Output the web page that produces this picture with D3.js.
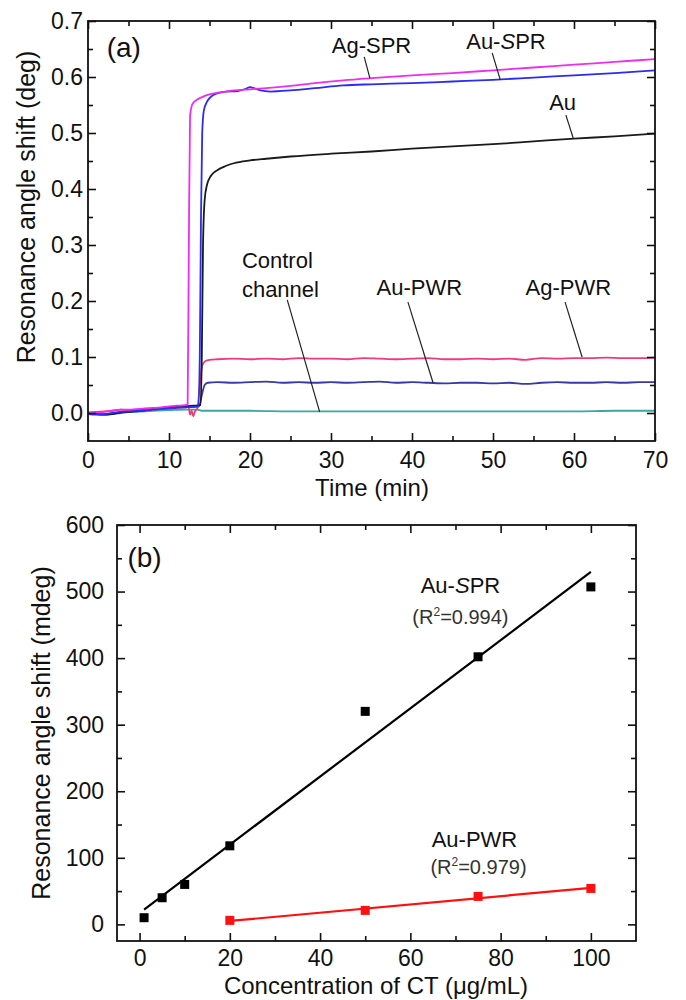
<!DOCTYPE html>
<html>
<head>
<meta charset="utf-8">
<script src="https://cdn.jsdelivr.net/npm/d3@7"></script>
<style>
body { margin: 0; background: #fff; }
svg { display: block; font-family: "Liberation Sans", Arial, sans-serif; }
</style>
</head>
<body>
<div id="container"></div>
<script>
const width = 686;
const height = 1000;

// ---- panel (a): time (min) vs resonance angle shift (deg) ----
const agSpr = [[0,0.000],[1,0.001],[2,0.002],[3,0.004],[4,0.006],[5,0.006],[6,0.007],[7,0.008],[8,0.009],[9,0.010],[10,0.012],[11,0.013],[12,0.014],[12.3,0.015],[12.45,0.30],[12.6,0.53],[12.9,0.552],[13.5,0.560],[14.2,0.565],[15,0.569],[16,0.572],[17,0.574],[18,0.576],[20,0.578],[22,0.580],[25,0.584],[28,0.589],[31.5,0.594],[35,0.598],[40,0.603],[45,0.607],[50,0.612],[55,0.617],[60,0.622],[65,0.627],[70,0.632]];
const auSpr = [[0,-0.002],[1,-0.003],[2,-0.002],[3,0.000],[4,0.002],[5,0.003],[6,0.004],[7,0.005],[8,0.007],[9,0.008],[10,0.009],[11,0.010],[12,0.010],[13,0.011],[13.6,0.012],[13.8,0.10],[13.95,0.35],[14.1,0.50],[14.3,0.54],[14.7,0.556],[15.2,0.565],[16,0.571],[17,0.574],[18.5,0.575],[19.5,0.579],[20,0.582],[20.5,0.580],[21.3,0.576],[22.5,0.574],[25,0.576],[28,0.580],[31.5,0.585],[35,0.587],[40,0.589],[45,0.592],[50,0.595],[55,0.599],[60,0.603],[65,0.607],[70,0.612]];
const au = [[0,0.000],[1,-0.002],[2,-0.003],[3,-0.002],[4,0.001],[5,0.002],[6,0.004],[7,0.006],[8,0.007],[9,0.009],[10,0.010],[11,0.011],[12,0.012],[13,0.013],[13.9,0.014],[14.05,0.10],[14.2,0.30],[14.4,0.38],[14.7,0.408],[15.2,0.424],[16,0.434],[17,0.441],[18,0.446],[20,0.451],[22,0.454],[25,0.458],[30,0.463],[35,0.467],[40,0.472],[45,0.476],[50,0.480],[55,0.485],[60,0.490],[65,0.494],[70,0.499]];
const agPwr = [[0,0.001],[1,0.002],[2,0.003],[3,0.004],[4,0.006],[5,0.005],[6,0.006],[7,0.006],[8,0.007],[9,0.008],[10,0.009],[11,0.011],[12,0.013],[12.4,0.012],[12.6,-0.003],[12.8,0.004],[13.0,-0.006],[13.2,0.003],[13.5,0.008],[13.8,0.050],[14.1,0.085],[14.5,0.093],[15,0.095],[16,0.096],[18,0.097],[20,0.096],[22,0.097],[24,0.096],[26,0.098],[28,0.097],[30,0.097],[32,0.096],[34,0.098],[36,0.097],[38,0.096],[40,0.097],[42,0.098],[44,0.096],[46,0.096],[48,0.097],[50,0.096],[52,0.097],[54,0.095],[56,0.098],[58,0.097],[60,0.098],[62,0.098],[64,0.099],[66,0.098],[68,0.098],[70,0.099]];
const auPwr = [[0,-0.002],[1,-0.002],[2,-0.003],[3,-0.001],[4,0.000],[5,0.002],[6,0.003],[7,0.004],[8,0.006],[9,0.007],[10,0.008],[11,0.009],[12,0.010],[13,0.011],[13.7,0.012],[14.1,0.035],[14.4,0.050],[14.8,0.054],[16,0.055],[18,0.054],[20,0.055],[22,0.056],[24,0.054],[26,0.055],[28,0.054],[30,0.055],[32,0.054],[34,0.055],[36,0.056],[38,0.054],[40,0.055],[42,0.054],[44,0.053],[46,0.054],[48,0.054],[50,0.053],[52,0.054],[54,0.052],[56,0.054],[58,0.055],[60,0.054],[62,0.054],[64,0.055],[66,0.054],[68,0.055],[70,0.055]];
const control = [[0,-0.001],[2,-0.002],[4,0.001],[6,0.002],[8,0.004],[10,0.005],[12,0.006],[13.5,0.006],[14,0.004],[16,0.004],[20,0.004],[25,0.003],[30,0.003],[35,0.003],[40,0.003],[45,0.003],[50,0.003],[55,0.003],[60,0.003],[65,0.004],[70,0.004]];

const timeTicks = [0, 10, 20, 30, 40, 50, 60, 70];
const timeMinor = [5, 15, 25, 35, 45, 55, 65];
const degTicks = [0, 0.1, 0.2, 0.3, 0.4, 0.5, 0.6, 0.7];
const degMinor = [0.05, 0.15, 0.25, 0.35, 0.45, 0.55, 0.65];

// ---- panel (b): concentration of CT vs shift (mdeg) ----
const concSpr = [1, 5, 10, 20, 50, 75, 100];
const shiftSpr = [10, 40, 60, 118, 320, 402, 507];
const concPwr = [20, 50, 75, 100];
const shiftPwr = [6, 21, 42, 54];

const concTicks = [0, 20, 40, 60, 80, 100];
const concMinor = [10, 30, 50, 70, 90];
const mdegTicks = [0, 100, 200, 300, 400, 500, 600];
const mdegMinor = [50, 150, 250, 350, 450, 550];

const svg = d3.select('#container')
    .append('svg')
    .attr('width', width)
    .attr('height', height);

function frameAxes(g, x, y, c) {
    const w = x.range()[1], h = y.range()[0];
    const sides = [
        [d3.axisBottom, x, `translate(0,${h})`, true],
        [d3.axisTop, x, 'translate(0,0)', false],
        [d3.axisLeft, y, 'translate(0,0)', true],
        [d3.axisRight, y, `translate(${w},0)`, false]
    ];
    sides.forEach(([ax, sc, tr, labels]) => {
        const isX = sc === x;
        const major = ax(sc).tickValues(isX ? c.xMajor : c.yMajor).tickSize(-8)
            .tickPadding(isX ? c.xPad : c.yPad)
            .tickFormat(labels ? (isX ? c.xFmt : c.yFmt) : '');
        const minor = ax(sc).tickValues(isX ? c.xMinor : c.yMinor).tickSize(-5).tickFormat('');
        g.append('g').attr('transform', tr).call(major);
        g.append('g').attr('transform', tr).call(minor);
    });
    g.selectAll('.domain').remove();
    g.selectAll('.tick line').attr('stroke', '#111').attr('stroke-width', 1.6);
    g.selectAll('.tick text').attr('font-size', 23).attr('fill', '#111')
        .attr('font-family', '"Liberation Sans", Arial, sans-serif');
    g.append('rect').attr('width', w).attr('height', h)
        .attr('fill', 'none').attr('stroke', '#111').attr('stroke-width', 1.8);
}

function richText(g, x, y, parts, size, anchor, fill) {
    const t = g.append('text').attr('x', x).attr('y', y)
        .attr('font-size', size).attr('text-anchor', anchor).attr('fill', fill);
    let shift = 0;
    parts.forEach(p => {
        const s = t.append('tspan').text(p.t);
        if (p.i) s.attr('font-style', 'italic');
        if (p.sup) {
            s.attr('font-size', size * 0.6).attr('dy', -size * 0.4);
            shift = size * 0.4;
        } else if (shift) {
            s.attr('dy', shift);
            shift = 0;
        }
    });
    return t;
}

// ---------- panel (a) ----------
const wA = 567, hA = 420;
const gA = svg.append('g').attr('transform', 'translate(88,21)');
const xA = d3.scaleLinear().domain([0, 70]).range([0, wA]);
const yA = d3.scaleLinear().domain([-0.05, 0.7]).range([hA, 0]);

gA.append('clipPath').attr('id', 'clipA').append('rect').attr('width', wA).attr('height', hA);

const lineA = d3.line().x(d => xA(d[0])).y(d => yA(d[1])).curve(d3.curveMonotoneX);
const seriesA = [
    [control, '#3aa89e'],
    [auPwr, '#3838a8'],
    [agPwr, '#f23a78'],
    [au, '#1a1a1a'],
    [auSpr, '#2b2bf5'],
    [agSpr, '#f02cf0']
];
gA.append('g').attr('clip-path', 'url(#clipA)')
    .selectAll('path').data(seriesA).enter().append('path')
    .attr('d', d => lineA(d[0]))
    .attr('fill', 'none').attr('stroke', d => d[1]).attr('stroke-width', 1.8);

frameAxes(gA, xA, yA, {
    xMajor: timeTicks, xMinor: timeMinor, yMajor: degTicks, yMinor: degMinor,
    xPad: 11, yPad: 5, xFmt: d3.format('d'), yFmt: d3.format('.1f')
});

const labelsA = [
    { parts: [{ t: 'Ag-SPR' }], t: 35.0, v: 0.643 },
    { parts: [{ t: 'Au-' }, { t: 'S', i: true }, { t: 'PR' }], t: 51.6, v: 0.650 },
    { parts: [{ t: 'Au' }], t: 58.6, v: 0.541 },
    { parts: [{ t: 'Au-PWR' }], t: 40.9, v: 0.211 },
    { parts: [{ t: 'Ag-PWR' }], t: 59.3, v: 0.211 }
];
labelsA.forEach(l => richText(gA, xA(l.t), yA(l.v), l.parts, 22, 'middle', '#111'));
richText(gA, xA(19.0), yA(0.259), [{ t: 'Control' }], 22, 'start', '#111');
richText(gA, xA(19.0), yA(0.207), [{ t: 'channel' }], 22, 'start', '#111');
richText(gA, xA(2.3), yA(0.636), [{ t: '(a)' }], 28, 'start', '#111');

const leadersA = [
    [34.1, 0.636, 34.8, 0.598],
    [49.9, 0.643, 50.9, 0.595],
    [59.0, 0.532, 59.9, 0.491],
    [24.6, 0.202, 28.6, 0.002],
    [39.5, 0.198, 42.6, 0.054],
    [58.9, 0.198, 61.0, 0.100]
];
gA.selectAll('line.leader').data(leadersA).enter().append('line')
    .attr('class', 'leader')
    .attr('x1', d => xA(d[0])).attr('y1', d => yA(d[1]))
    .attr('x2', d => xA(d[2])).attr('y2', d => yA(d[3]))
    .attr('stroke', '#222').attr('stroke-width', 1.2);

svg.append('text').attr('x', 372).attr('y', 496).attr('text-anchor', 'middle')
    .attr('font-size', 24).attr('fill', '#111').text('Time (min)');
svg.append('text').attr('transform', 'translate(35,207) rotate(-90)').attr('text-anchor', 'middle')
    .attr('font-size', 25).attr('fill', '#111').text('Resonance angle shift (deg)');

// ---------- panel (b) ----------
const wB = 519, hB = 416;
const gB = svg.append('g').attr('transform', 'translate(117,525)');
const xB = d3.scaleLinear().domain([-5, 110]).range([0, wB]);
const yB = d3.scaleLinear().domain([-25, 600]).range([hB, 0]);

function fit(xs, ys) {
    const mx = d3.mean(xs), my = d3.mean(ys);
    const sxy = d3.sum(xs, (v, i) => (v - mx) * (ys[i] - my));
    const sxx = d3.sum(xs, v => (v - mx) * (v - mx));
    const k = sxy / sxx;
    const b = my - k * mx;
    const ext = d3.extent(xs);
    return ext.map(v => [v, k * v + b]);
}

const groupsB = [
    [concSpr, shiftSpr, '#000'],
    [concPwr, shiftPwr, '#ff1010']
];
groupsB.forEach(([xs, ys, col]) => {
    gB.append('path').datum(fit(xs, ys))
        .attr('d', d3.line().x(d => xB(d[0])).y(d => yB(d[1])))
        .attr('fill', 'none').attr('stroke', col).attr('stroke-width', 2.2);
    gB.append('g').selectAll('rect').data(xs).enter().append('rect')
        .attr('x', (d) => xB(d) - 4.5)
        .attr('y', (d, i) => yB(ys[i]) - 4.5)
        .attr('width', 9).attr('height', 9)
        .attr('fill', col);
});

frameAxes(gB, xB, yB, {
    xMajor: concTicks, xMinor: concMinor, yMajor: mdegTicks, yMinor: mdegMinor,
    xPad: 9, yPad: 13, xFmt: d3.format('d'), yFmt: d3.format('d')
});

richText(gB, xB(71.1), yB(498), [{ t: 'Au-' }, { t: 'S', i: true }, { t: 'PR' }], 22, 'middle', '#111');
richText(gB, xB(71.1), yB(451), [{ t: '(R' }, { t: '2', sup: true }, { t: '=0.994)' }], 20, 'middle', '#333');
richText(gB, xB(74.2), yB(116), [{ t: 'Au-PWR' }], 22, 'middle', '#111');
richText(gB, xB(75.1), yB(75), [{ t: '(R' }, { t: '2', sup: true }, { t: '=0.979)' }], 20, 'middle', '#333');
richText(gB, xB(-2.7), yB(537), [{ t: '(b)' }], 28, 'start', '#111');

svg.append('text').attr('x', 376).attr('y', 994).attr('text-anchor', 'middle')
    .attr('font-size', 24).attr('fill', '#111').text('Concentration of CT (\u03bcg/mL)');
svg.append('text').attr('transform', 'translate(50,733) rotate(-90)').attr('text-anchor', 'middle')
    .attr('font-size', 25).attr('fill', '#111').text('Resonance angle shift (mdeg)');
</script>
</body>
</html>
